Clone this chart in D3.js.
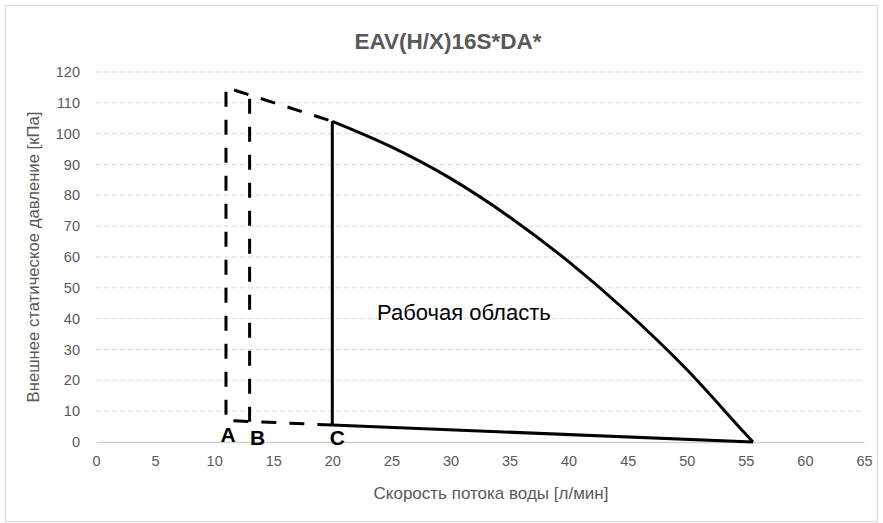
<!DOCTYPE html>
<html><head><meta charset="utf-8">
<script src="https://cdn.jsdelivr.net/npm/d3@7"></script>
<style>body{margin:0;background:#fff}svg{display:block}</style>
</head><body>
<script>
const title = "EAV(H/X)16S*DA*";
const xTitle = "Скорость потока воды [л/мин]";
const yTitle = "Внешнее статическое давление [кПа]";
const areaLabel = "Рабочая область";
const xTicks = [0,5,10,15,20,25,30,35,40,45,50,55,60,65];
const yTicks = [0,10,20,30,40,50,60,70,80,90,100,110,120];

// solid operating boundary: C bottom -> C top -> curve -> zero point -> back to C bottom
const curveX = [20, 25, 30, 35, 40, 45, 50, 55, 55.6];
const curveY = [104, 95.7, 85.5, 73, 58.5, 42, 23.5, 2.5, 0];
const cBottom = [20, 5.5];
// dashed extension through A
const dashAX = [20, 11, 11, 20];
const dashAY = [5.5, 7, 115, 104];
// dashed vertical at B
const dashBX = [13, 13];
const dashBY = [6.6, 112.7];
const pointLabels = ["A","B","C"];
const pointLabelX = [11, 13, 20];

const W = 883, H = 523;
const svg = d3.select("body").append("svg").attr("width", W).attr("height", H);
const font = "'Liberation Sans', Arial, sans-serif";

svg.append("rect").attr("x",5.5).attr("y",5.5).attr("width",872).attr("height",516)
  .attr("fill","#fff").attr("stroke","#d9d9d9").attr("stroke-width",1);

const x = d3.scaleLinear().domain([0,65]).range([96,864]);
const y = d3.scaleLinear().domain([0,120]).range([442,72]);

// gridlines
svg.append("g").selectAll("line").data(yTicks.filter(d=>d>0)).join("line")
  .attr("x1",x(0)).attr("x2",x(65)).attr("y1",d=>y(d)).attr("y2",d=>y(d))
  .attr("stroke","#d9d9d9").attr("stroke-width",1).attr("stroke-dasharray","5,3");

// x axis
const xAxis = svg.append("g").attr("transform",`translate(0,${y(0)})`)
  .call(d3.axisBottom(x).tickValues(xTicks).tickSize(0).tickPadding(14).tickFormat(d3.format("d")));
xAxis.select(".domain").attr("stroke","#d0d0d0").attr("stroke-width",1.5);
xAxis.selectAll("text").attr("fill","#595959").attr("font-size",14.5).attr("font-family",font);

// y axis
const yAxis = svg.append("g").attr("transform",`translate(${x(0)},0)`)
  .call(d3.axisLeft(y).tickValues(yTicks).tickSize(0).tickPadding(16).tickFormat(d3.format("d")));
yAxis.select(".domain").remove();
yAxis.selectAll("text").attr("fill","#595959").attr("font-size",14.5).attr("font-family",font);

// title
svg.append("text").attr("x",448).attr("y",49).attr("text-anchor","middle")
  .attr("font-family",font).attr("font-weight","bold").attr("font-size",22.5).attr("fill","#595959").text(title);
svg.append("text").attr("x",491).attr("y",499).attr("text-anchor","middle")
  .attr("font-family",font).attr("font-size",17).attr("fill","#595959").text(xTitle);
svg.append("text").attr("transform",`translate(39,${(y(0)+y(120))/2}) rotate(-90)`).attr("text-anchor","middle")
  .attr("font-family",font).attr("font-size",16.7).attr("fill","#595959").text(yTitle);

const line = d3.line().x(d=>x(d[0])).y(d=>y(d[1]));
const curveLine = d3.line().x(d=>x(d[0])).y(d=>y(d[1])).curve(d3.curveMonotoneX);

// solid boundary
const curvePts = curveX.map((v,i)=>[v,curveY[i]]);
svg.append("path").attr("d", line([cBottom, curvePts[0]])).attr("fill","none").attr("stroke","#000").attr("stroke-width",3);
svg.append("path").attr("d", curveLine(curvePts)).attr("fill","none").attr("stroke","#000").attr("stroke-width",3);
svg.append("path").attr("d", line([curvePts[curvePts.length-1], cBottom])).attr("fill","none").attr("stroke","#000").attr("stroke-width",3);

// dashed
svg.append("path").attr("d", line(dashAX.map((v,i)=>[v,dashAY[i]]))).attr("fill","none")
  .attr("stroke","#000").attr("stroke-width",3).attr("stroke-dasharray","15,13");
svg.append("path").attr("d", line(dashBX.map((v,i)=>[v,dashBY[i]]))).attr("fill","none")
  .attr("stroke","#000").attr("stroke-width",3).attr("stroke-dasharray","15,13");

// point labels
const labelDx = [2, 8, 5];
const labelDy = [442, 445, 445];
svg.append("g").selectAll("text").data(pointLabels).join("text")
  .attr("x",(d,i)=>x(pointLabelX[i])+labelDx[i]).attr("y",(d,i)=>labelDy[i])
  .attr("text-anchor","middle").attr("font-family",font).attr("font-weight","bold")
  .attr("font-size",21).attr("fill","#000").text(d=>d);

svg.append("text").attr("x",377).attr("y",320).attr("font-family",font).attr("font-size",22)
  .attr("fill","#000").text(areaLabel);
</script>
</body></html>
